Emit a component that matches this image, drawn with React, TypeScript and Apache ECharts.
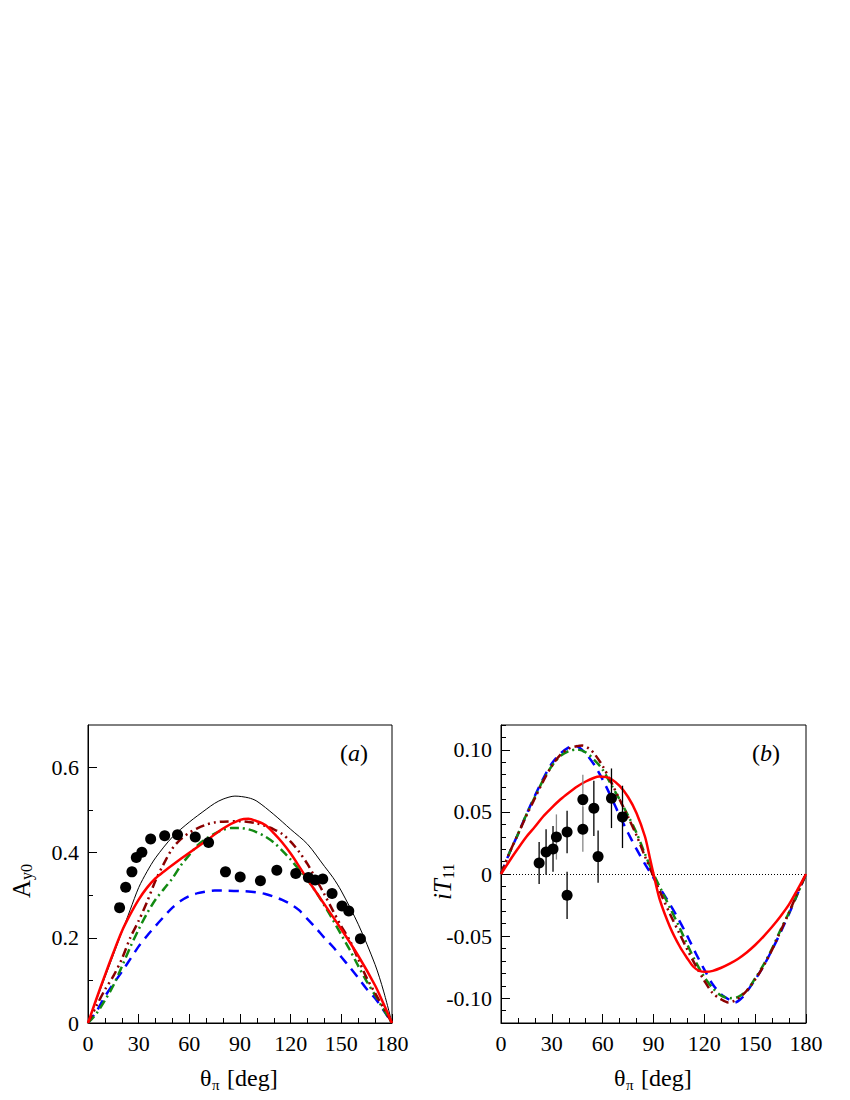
import React, { useEffect, useRef } from "react";
import * as echarts from "echarts";

const FONT = "Liberation Serif, Times New Roman, serif";

// ---------- Panel (a): A_y0 ----------
const A_Y_LABELS = [0, 0.2, 0.4, 0.6];
const A_Y_MINOR = [0.1, 0.3, 0.5];

const A_DATA_X = [18.7, 22.3, 26.0, 28.6, 31.9, 37.1, 45.4, 53.0, 63.5, 71.4, 81.4, 90.1, 102.1, 111.8, 123.0, 130.5, 134.5, 139.0, 144.5, 150.4, 154.4, 161.3];
const A_DATA_Y = [0.271, 0.319, 0.355, 0.389, 0.401, 0.432, 0.440, 0.442, 0.437, 0.424, 0.355, 0.343, 0.334, 0.359, 0.351, 0.342, 0.336, 0.338, 0.304, 0.275, 0.263, 0.198];

const A_BLACK: [number, number][] = [
  [0, 0], [5, 0.054], [10, 0.107], [15, 0.16], [20, 0.213], [25, 0.266], [30, 0.318], [35, 0.356], [40, 0.388],
  [50, 0.437], [60, 0.472], [70, 0.502], [75, 0.516], [80, 0.526], [87, 0.533], [95, 0.529], [100, 0.521],
  [110, 0.49], [120, 0.455], [130, 0.42], [140, 0.368], [145, 0.342], [150, 0.31], [160, 0.232],
  [170, 0.137], [175, 0.075], [180, 0],
];
const A_RED: [number, number][] = [
  [0, 0], [5, 0.057], [10, 0.112], [15, 0.165], [20, 0.215], [25, 0.255], [30, 0.29], [35, 0.318], [40, 0.34],
  [45, 0.356], [50, 0.371], [60, 0.4], [70, 0.428], [80, 0.457], [90, 0.477], [95, 0.48], [100, 0.474],
  [105, 0.465], [110, 0.446], [115, 0.424], [120, 0.398], [125, 0.368], [130, 0.337], [137, 0.296],
  [149, 0.226], [160, 0.158], [170, 0.088], [175, 0.045], [180, 0],
];
const A_DARKRED: [number, number][] = [
  [0, 0], [5, 0.04], [10, 0.078], [15, 0.11], [20, 0.15], [25, 0.2], [30, 0.24], [35, 0.285], [40, 0.335],
  [45, 0.375], [50, 0.41], [55, 0.432], [60, 0.447], [65, 0.458], [70, 0.466], [75, 0.471], [80, 0.473],
  [90, 0.474], [100, 0.469], [105, 0.463], [110, 0.455], [115, 0.444], [120, 0.426], [125, 0.402],
  [130, 0.373], [135, 0.338], [140, 0.302], [145, 0.264], [150, 0.227], [155, 0.194], [160, 0.15],
  [165, 0.106], [170, 0.07], [175, 0.035], [180, 0],
];
const A_GREEN: [number, number][] = [
  [0, 0], [5, 0.022], [10, 0.053], [15, 0.088], [20, 0.132], [25, 0.178], [30, 0.22], [35, 0.258], [40, 0.29],
  [45, 0.315], [50, 0.34], [55, 0.37], [60, 0.395], [65, 0.418], [70, 0.433], [75, 0.445], [80, 0.454],
  [85, 0.458], [90, 0.458], [95, 0.455], [100, 0.448], [105, 0.438], [110, 0.424], [115, 0.405],
  [120, 0.384], [125, 0.36], [130, 0.336], [135, 0.308], [140, 0.276], [145, 0.242], [150, 0.207],
  [155, 0.172], [160, 0.134], [165, 0.098], [170, 0.065], [175, 0.032], [180, 0],
];
const A_BLUE: [number, number][] = [
  [0, 0], [5, 0.027], [10, 0.062], [15, 0.092], [20, 0.12], [25, 0.15], [30, 0.18], [35, 0.205], [40, 0.228],
  [45, 0.25], [50, 0.271], [55, 0.287], [60, 0.298], [65, 0.305], [70, 0.309], [75, 0.311], [80, 0.311],
  [90, 0.31], [100, 0.307], [105, 0.303], [110, 0.297], [115, 0.289], [120, 0.279], [125, 0.265],
  [130, 0.244], [135, 0.223], [140, 0.2], [145, 0.179], [150, 0.155], [155, 0.131], [160, 0.106],
  [165, 0.08], [170, 0.058], [175, 0.03], [180, 0],
];

// ---------- Panel (b): iT11 ----------
const B_Y_LABELS = [-0.1, -0.05, 0, 0.05, 0.1];
const B_Y_MINOR = [-0.12, -0.11, -0.09, -0.08, -0.07, -0.06, -0.04, -0.03, -0.02, -0.01, 0.01, 0.02, 0.03, 0.04, 0.06, 0.07, 0.08, 0.09, 0.11, 0.12];

// [theta, value, error] — black error bars
const B_DATA_1: [number, number, number][] = [
  [22.5, 0.0089, 0.0169], [26.6, 0.0177, 0.0183], [30.7, 0.0202, 0.0184], [39.0, 0.0339, 0.0171],
  [39.0, -0.0172, 0.0190], [54.8, 0.0529, 0.0222], [57.3, 0.0140, 0.0211], [65.2, 0.0610, 0.0240],
  [71.7, 0.0460, 0.0251],
];
// [theta, value, error] — grey error bars
const B_DATA_2: [number, number, number][] = [
  [32.7, 0.0298, 0.0182], [48.3, 0.0599, 0.0200], [48.3, 0.0360, 0.0180],
];

const B_RED: [number, number][] = [
  [0, 0], [5, 0.0105], [10, 0.0205], [15, 0.03], [20, 0.038], [25, 0.0465], [30, 0.0535], [35, 0.06],
  [40, 0.0655], [45, 0.0705], [50, 0.0745], [55, 0.0775], [58, 0.0785], [62, 0.078], [65, 0.0765],
  [70, 0.071], [75, 0.062], [80, 0.049], [85, 0.03], [88, 0.012], [90, 0], [93.7, -0.0207],
  [99.6, -0.0422], [105.5, -0.0584], [110, -0.068], [113.4, -0.0745], [117, -0.078], [121, -0.0788],
  [125, -0.078], [130, -0.0755], [135, -0.0722], [140, -0.0682], [145, -0.0632], [150, -0.0572],
  [155, -0.0502], [160, -0.0425], [165, -0.034], [170, -0.0245], [175, -0.0125], [180, 0],
];
const B_BLUE: [number, number][] = [
  [0, 0], [5, 0.017], [10, 0.032], [15, 0.048], [20, 0.063], [25, 0.077], [30, 0.089], [35, 0.097],
  [40, 0.102], [43, 0.1035], [46, 0.102], [50, 0.097], [55, 0.088], [60, 0.076], [65, 0.062], [70, 0.047],
  [75, 0.033], [80, 0.02], [85, 0.008], [90, -0.003], [95, -0.014], [100, -0.025], [105, -0.037],
  [110, -0.05], [115, -0.064], [120, -0.077], [125, -0.089], [130, -0.097], [135, -0.1015],
  [138, -0.1035], [142, -0.1], [145, -0.095], [150, -0.085], [155, -0.074], [160, -0.061],
  [165, -0.047], [170, -0.032], [175, -0.016], [180, 0],
];
const B_GREEN: [number, number][] = [
  [0, 0], [5, 0.017], [10, 0.032], [15, 0.048], [20, 0.062], [25, 0.076], [30, 0.087], [35, 0.095],
  [40, 0.099], [45, 0.1002], [50, 0.098], [55, 0.092], [60, 0.084], [65, 0.072], [70, 0.06], [75, 0.047],
  [80, 0.033], [85, 0.016], [90, 0], [95, -0.014], [100, -0.028], [105, -0.042], [110, -0.057],
  [115, -0.071], [120, -0.083], [125, -0.092], [130, -0.098], [135, -0.1], [140, -0.099], [145, -0.094],
  [150, -0.084], [155, -0.073], [160, -0.06], [165, -0.045], [170, -0.031], [175, -0.016], [180, 0],
];
const B_DARKRED: [number, number][] = [
  [0, 0], [5, 0.017], [10, 0.032], [15, 0.047], [20, 0.061], [25, 0.075], [30, 0.087], [35, 0.096],
  [40, 0.101], [45, 0.103], [48, 0.1034], [52, 0.101], [55, 0.097], [60, 0.087], [65, 0.074], [70, 0.06],
  [75, 0.046], [80, 0.031], [85, 0.014], [90, -0.002], [95, -0.018], [100, -0.033], [105, -0.047],
  [110, -0.061], [115, -0.074], [120, -0.086], [125, -0.096], [130, -0.101], [134, -0.1034],
  [138, -0.102], [142, -0.098], [145, -0.094], [150, -0.085], [155, -0.074], [160, -0.061],
  [165, -0.046], [170, -0.031], [175, -0.015], [180, 0],
];

const C_RED = "#ff0000";
const C_DARKRED = "#8b0000";
const C_GREEN = "#128a12";
const C_BLUE = "#0000ff";

function curve(data: [number, number][], xi: number, yi: number, color: string, width: number, type: any, z: number) {
  return {
    type: "line",
    xAxisIndex: xi,
    yAxisIndex: yi,
    data,
    symbol: "none",
    smooth: 0.3,
    lineStyle: { color, width, type, cap: "butt", join: "round" },
    z,
    silent: true,
  };
}

function errorBars(data: [number, number, number][], color: string) {
  return {
    type: "custom",
    xAxisIndex: 1,
    yAxisIndex: 2,
    data: data.map(([x, y, e]) => [x, y - e, y + e]),
    encode: { x: 0, y: [1, 2] },
    z: 8,
    silent: true,
    renderItem: (_params: any, api: any) => {
      const p1 = api.coord([api.value(0), api.value(1)]);
      const p2 = api.coord([api.value(0), api.value(2)]);
      return {
        type: "line",
        shape: { x1: p1[0], y1: p1[1], x2: p2[0], y2: p2[1] },
        style: { stroke: color, lineWidth: 1.3 },
      };
    },
  };
}

function xAxis(gridIndex: number) {
  return {
    type: "value",
    gridIndex,
    min: 0,
    max: 180,
    interval: 30,
    axisLine: { show: true, onZero: false, lineStyle: { color: "#000", width: 1 } },
    axisTick: { show: true, inside: true, length: 9, lineStyle: { color: "#000", width: 1 } },
    minorTick: { show: true, splitNumber: 3, length: 5, lineStyle: { color: "#000", width: 1 } },
    axisLabel: { color: "#000", fontSize: 22, fontFamily: FONT, margin: 9 },
    splitLine: { show: false },
  };
}

function yAxisMain(gridIndex: number, min: number, max: number, labels: number[], fmt: (v: number) => string) {
  return {
    type: "value",
    gridIndex,
    min,
    max,
    axisLine: { show: true, onZero: false, lineStyle: { color: "#000", width: 1 } },
    axisTick: { show: true, inside: true, length: 9, customValues: labels, lineStyle: { color: "#000", width: 1 } },
    axisLabel: { color: "#000", fontSize: 22, fontFamily: FONT, margin: 9, customValues: labels, formatter: fmt },
    splitLine: { show: false },
  };
}

function yAxisMinor(gridIndex: number, min: number, max: number, ticks: number[]) {
  return {
    type: "value",
    gridIndex,
    min,
    max,
    position: "left",
    axisLine: { show: false, onZero: false },
    axisTick: { show: true, inside: true, length: 5, customValues: ticks, lineStyle: { color: "#000", width: 1 } },
    axisLabel: { show: false },
    splitLine: { show: false },
  };
}

function txt(x: number, y: number, text: string, size: number, italic = false) {
  return {
    type: "text",
    x,
    y,
    style: {
      text,
      fontFamily: FONT,
      fontSize: size,
      fontStyle: italic ? "italic" : "normal",
      fill: "#000",
      textAlign: "left",
      align: "left",
      textVerticalAlign: "middle",
      verticalAlign: "middle",
    },
  };
}

function xName(cx: number, cy: number) {
  return {
    type: "group",
    x: cx,
    y: cy,
    children: [txt(-40, 0, "θ", 24), txt(-28, 7, "π", 15), txt(-13, 0, "[deg]", 24)],
  };
}

function panelLabel(cx: number, cy: number, letter: string) {
  return {
    type: "group",
    x: cx,
    y: cy,
    children: [txt(-15, 0, "(", 24), txt(-7, 0, letter, 24, true), txt(5, 0, ")", 24)],
  };
}

export default function App() {
  const ref = useRef<HTMLDivElement>(null);

  useEffect(() => {
    if (!ref.current) return;
    const chart = echarts.init(ref.current, null, { renderer: "svg" });
    const option: any = {
      animation: false,
      backgroundColor: "#fff",
      textStyle: { fontFamily: FONT },
      grid: [
        { left: 88, top: 725, width: 304, height: 298, show: true, borderColor: "#000", borderWidth: 1, backgroundColor: "transparent" },
        { left: 501, top: 725, width: 305, height: 298, show: true, borderColor: "#000", borderWidth: 1, backgroundColor: "transparent" },
      ],
      xAxis: [xAxis(0), xAxis(1)],
      yAxis: [
        yAxisMain(0, 0, 0.7, A_Y_LABELS, (v: number) => (v === 0 ? "0" : v.toFixed(1))),
        yAxisMinor(0, 0, 0.7, A_Y_MINOR),
        yAxisMain(1, -0.12, 0.12, B_Y_LABELS, (v: number) => (Math.abs(v) < 1e-9 ? "0" : v.toFixed(2))),
        yAxisMinor(1, -0.12, 0.12, B_Y_MINOR),
      ],
      series: [
        // Panel (a)
        curve(A_BLACK, 0, 0, "#000", 1, "solid", 3),
        curve(A_BLUE, 0, 0, C_BLUE, 2.5, [10, 7], 4),
        curve(A_GREEN, 0, 0, C_GREEN, 2.5, [9, 4, 2, 4], 5),
        curve(A_DARKRED, 0, 0, C_DARKRED, 2.5, [9, 4, 2, 4, 2, 4], 6),
        curve(A_RED, 0, 0, C_RED, 2.5, "solid", 7),
        {
          type: "scatter",
          xAxisIndex: 0,
          yAxisIndex: 0,
          data: A_DATA_X.map((x, i) => [x, A_DATA_Y[i]]),
          symbol: "circle",
          symbolSize: 11,
          itemStyle: { color: "#000", opacity: 1 },
          z: 10,
          silent: true,
        },
        // Panel (b)
        {
          type: "line",
          xAxisIndex: 1,
          yAxisIndex: 2,
          data: [],
          markLine: {
            silent: true,
            symbol: "none",
            label: { show: false },
            lineStyle: { color: "#000", width: 1, type: [1, 2] },
            data: [{ yAxis: 0 }],
          },
          z: 2,
        },
        curve(B_BLUE, 1, 2, C_BLUE, 2.5, [10, 7], 4),
        curve(B_GREEN, 1, 2, C_GREEN, 2.5, [9, 4, 2, 4], 5),
        curve(B_DARKRED, 1, 2, C_DARKRED, 2.5, [9, 4, 2, 4, 2, 4], 6),
        curve(B_RED, 1, 2, C_RED, 2.5, "solid", 7),
        errorBars(B_DATA_1, "#000"),
        errorBars(B_DATA_2, "#888"),
        {
          type: "scatter",
          xAxisIndex: 1,
          yAxisIndex: 2,
          data: [...B_DATA_1, ...B_DATA_2].map(([x, y]) => [x, y]),
          symbol: "circle",
          symbolSize: 11,
          itemStyle: { color: "#000", opacity: 1 },
          z: 10,
          silent: true,
        },
      ],
      graphic: [
        {
          type: "group",
          x: 21,
          y: 882,
          rotation: Math.PI / 2,
          children: [txt(-16, 0, "A", 25), txt(2, 5, "y0", 16)],
        },
        {
          type: "group",
          x: 442,
          y: 878,
          rotation: Math.PI / 2,
          children: [txt(-22, 0, "iT", 25, true), txt(-1, 6, "11", 16)],
        },
        xName(240, 1078),
        xName(654, 1078),
        panelLabel(355, 753, "a"),
        panelLabel(767, 753, "b"),
      ],
    };
    chart.setOption(option);
    return () => chart.dispose();
  }, []);

  return (
    <div
      ref={ref}
      style={{ position: "absolute", left: 0, top: 0, width: 850, height: 1100, background: "#fff" }}
    />
  );
}
